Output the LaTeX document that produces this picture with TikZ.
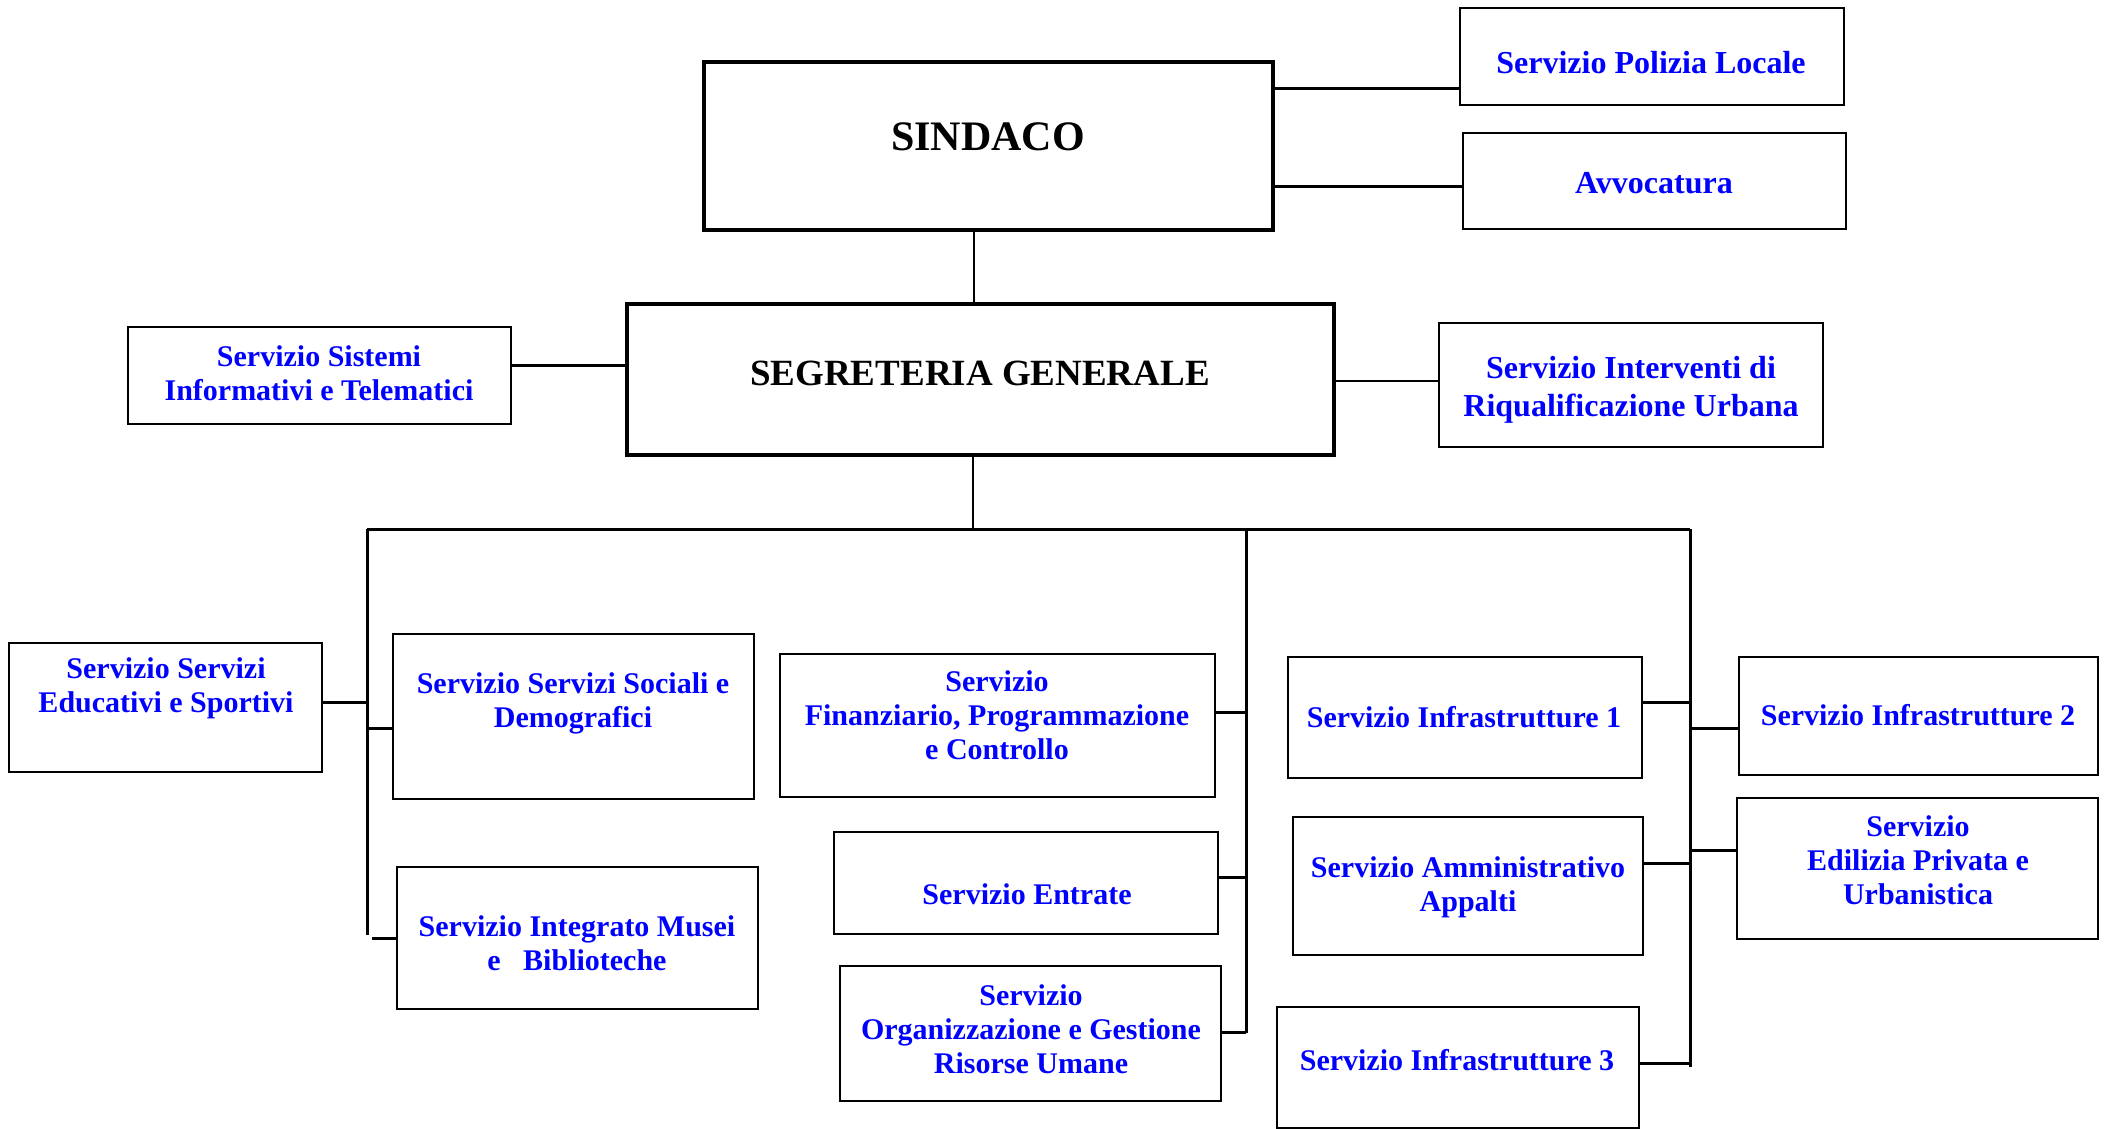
\documentclass[tikz,border=0pt]{standalone}
\usepackage{fontspec}
\setmainfont{Liberation Serif}
\definecolor{servblue}{RGB}{0,0,255}

\tikzset{
	box/.style = {draw, line width=1pt, inner sep=0pt},
	headbox/.style = {box, line width=1.6pt},
	lbl/.style = {text=servblue, font=\fontsize{15}{17}\selectfont\bfseries, align=center},
	biglbl/.style = {lbl, font=\fontsize{16}{19}\selectfont\bfseries},
	head/.style = {font=\fontsize{#1}{22}\selectfont\bfseries},
	link/.style = {line width=1.5pt},
	thinlink/.style = {line width=1pt}
}

\begin{document}
\begin{tikzpicture}[x=0.5pt,y=-0.5pt]

	\useasboundingbox (0,0) rectangle (2110,1129);

	% boxes
	\node[headbox, minimum width=284.5pt, minimum height=84pt] (sindaco) at (988.5,146) {};
	\node[box, minimum width=192pt, minimum height=48.5pt] (polizia) at (1652,56.5) {};
	\node[box, minimum width=191.5pt, minimum height=48pt] (avvocatura) at (1654.5,181) {};
	\node[headbox, minimum width=353.5pt, minimum height=75.5pt] (segreteria) at (980.5,379.5) {};
	\node[box, minimum width=191.5pt, minimum height=48.5pt] (sistemi) at (319.5,375.5) {};
	\node[box, minimum width=192pt, minimum height=62pt] (interventi) at (1631,385) {};

	\node[box, minimum width=156.5pt, minimum height=64.5pt] (educativi) at (165.5,707.5) {};
	\node[box, minimum width=180.5pt, minimum height=82.5pt] (sociali) at (573.5,716.5) {};
	\node[box, minimum width=180.5pt, minimum height=71pt] (musei) at (577.5,938) {};
	\node[box, minimum width=217.5pt, minimum height=71.5pt] (finanziario) at (997.5,725.5) {};
	\node[box, minimum width=192pt, minimum height=51pt] (entrate) at (1026,883) {};
	\node[box, minimum width=190.5pt, minimum height=67.5pt] (personale) at (1030.5,1033.5) {};
	\node[box, minimum width=177pt, minimum height=60.5pt] (infra1) at (1465,717.5) {};
	\node[box, minimum width=175pt, minimum height=69pt] (appalti) at (1468,886) {};
	\node[box, minimum width=181pt, minimum height=60.5pt] (infra3) at (1458,1067.5) {};
	\node[box, minimum width=179.5pt, minimum height=59pt] (infra2) at (1918.5,716) {};
	\node[box, minimum width=180.5pt, minimum height=70.5pt] (edilizia) at (1917.5,868.5) {};

	% texts
	\node[head=21] (t-sindaco) at (988,137) {SINDACO};
	\node[head=18.5] (t-segreteria) at (980,373) {SEGRETERIA GENERALE};
	\node[biglbl] (t-polizia) at (1651,63) {Servizio Polizia Locale};
	\node[biglbl] (t-avvocatura) at (1654,183) {Avvocatura};
	\node[lbl] (t-sistemi) at (319,373) {Servizio Sistemi\\Informativi e Telematici};
	\node[biglbl] (t-interventi) at (1631,390) {Servizio Interventi di\\Riqualificazione Urbana};
	\node[lbl] (t-educativi) at (166,688) {Servizio Servizi\\Educativi e Sportivi};
	\node[lbl] (t-sociali) at (573,703) {Servizio Servizi Sociali e\\Demografici};
	\node[lbl] (t-musei) at (577,943) {Servizio Integrato Musei\\e\ \ \ Biblioteche};
	\node[lbl] (t-finanziario) at (997,715) {Servizio\\Finanziario, Programmazione\\e Controllo};
	\node[lbl] (t-entrate) at (1027,894) {Servizio Entrate};
	\node[lbl] (t-personale) at (1031,1029) {Servizio\\Organizzazione e Gestione\\Risorse Umane};
	\node[lbl] (t-infra1) at (1464,717) {Servizio Infrastrutture 1};
	\node[lbl] (t-appalti) at (1468,887) {Servizio Amministrativo\\Appalti};
	\node[lbl] (t-infra3) at (1457,1060) {Servizio Infrastrutture 3};
	\node[lbl] (t-infra2) at (1918,715) {Servizio Infrastrutture 2};
	\node[lbl] (t-edilizia) at (1918,860) {Servizio\\Edilizia Privata e\\Urbanistica};

	% bus lines
	\coordinate (trunk) at (974,0);
	\coordinate (busL) at (367,529);
	\coordinate (busM) at (1246,529);
	\coordinate (busR) at (1690,529);

	\draw[link] (sindaco.east |- 0,89) -- (polizia.west |- 0,89);
	\draw[link] (sindaco.east |- 0,186) -- (avvocatura.west |- 0,186);
	\draw[thinlink] (trunk |- sindaco.south) -- (trunk |- segreteria.north);
	\draw[link] (sistemi.east |- 0,365) -- (segreteria.west |- 0,365);
	\draw[thinlink] (segreteria.east |- 0,381) -- (interventi.west |- 0,381);
	\draw[thinlink] (segreteria.south -| 973,0) -- (busL -| 973,0);

	\draw[link] (busL) -- (busR);
	\draw[link] (busL) -- (busL |- 0,935);
	\draw[link] (busM) -- (busM |- 0,1033);
	\draw[link] (busR) -- (busR |- 0,1067);

	% left branch
	\draw[link] (educativi.east |- 0,702) -- (busL |- 0,702);
	\draw[link] (busL |- 0,728) -- (sociali.west |- 0,728);
	\draw[link] (372,938) -- (musei.west |- 0,938);

	% middle branch
	\draw[link] (finanziario.east |- 0,712) -- (busM |- 0,712);
	\draw[link] (entrate.east |- 0,877) -- (busM |- 0,877);
	\draw[link] (personale.east |- 0,1032) -- (busM |- 0,1032);

	% right branch
	\draw[link] (infra1.east |- 0,702) -- (busR |- 0,702);
	\draw[link] (appalti.east |- 0,863) -- (busR |- 0,863);
	\draw[link] (infra3.east |- 0,1063) -- (busR |- 0,1063);
	\draw[link] (busR |- 0,728) -- (infra2.west |- 0,728);
	\draw[link] (busR |- 0,850) -- (edilizia.west |- 0,850);

\end{tikzpicture}
\end{document}
